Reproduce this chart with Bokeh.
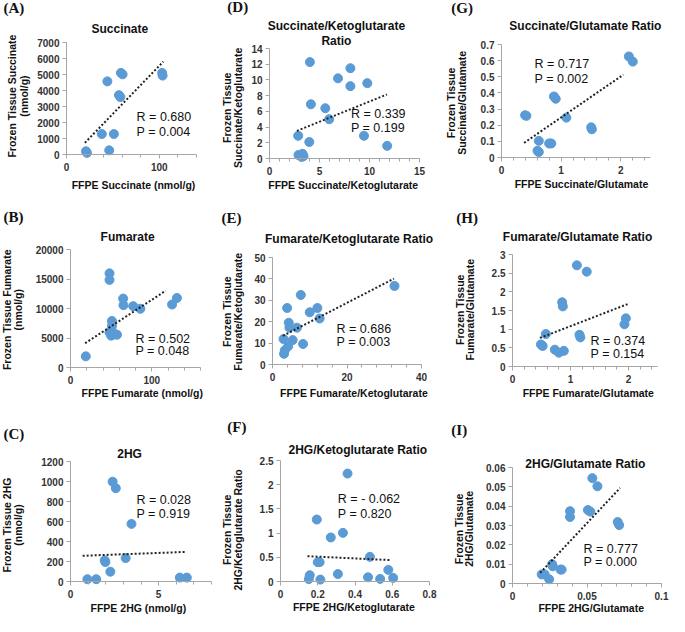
import math
from bokeh.plotting import figure
from bokeh.layouts import column, row
from bokeh.models import Range1d, FixedTicker, Label, CustomJSTickFormatter
from bokeh.embed import file_html
from bokeh.resources import INLINE

# ---------------- data ----------------
# (A) Succinate
succ_x = [21, 22, 38, 51, 46, 44, 56.5, 58, 58.6, 60.4, 103, 103.5]
succ_y = [200, 100, 1280, 1280, 260, 4570, 3710, 3590, 5100, 5010, 5100, 4930]
succ_trend_x = [19.8, 104.3]
succ_trend_y = [730, 5806]
# (D) Succinate/Ketoglutarate
sk_x = [4.04, 8.09, 6.85, 8.09, 9.78, 4.14, 5.58, 5.97, 2.87, 3.98, 9.45, 11.77, 2.9, 3.3, 3.4, 3.2]
sk_y = [12.27, 11.49, 10.2, 9.21, 9.59, 6.9, 6.4, 5.0, 2.89, 2.1, 2.89, 1.61, 0.45, 0.6, 0.3, 0.2]
sk_trend_x = [2.74, 11.74]
sk_trend_y = [3.51, 8.14]
# (G) Succinate/Glutamate
sg_x = [2.137, 2.203, 0.396, 0.418, 0.88, 0.91, 1.088, 1.505, 1.516, 0.626, 0.80, 0.835, 0.604, 0.626]
sg_y = [0.626, 0.594, 0.262, 0.258, 0.378, 0.364, 0.247, 0.187, 0.175, 0.103, 0.087, 0.087, 0.042, 0.034]
sg_trend_x = [0.379, 2.044]
sg_trend_y = [0.0905, 0.513]
# (B) Fumarate
fum_x = [18.8, 48, 48, 51, 51, 51, 52, 48, 50, 57.2, 64.8, 65.2, 77.2, 86, 125, 131]
fum_y = [1890, 15955, 14844, 7890, 7056, 6222, 5555, 5945, 5400, 5555, 11675, 10563, 10396, 9952, 10674, 11786]
fum_trend_x = [18, 117.2]
fum_trend_y = [4114, 13010]
# (E) Fumarate/Ketoglutarate
fk_x = [7.6, 3.93, 12.05, 10.0, 12.66, 4.37, 4.54, 6.55, 2.97, 5.41, 4.2, 8.2, 3.3, 3.1, 32.75]
fk_y = [32.5, 26.4, 26.4, 24.4, 21.5, 19.5, 17.2, 17.2, 11.9, 11.4, 8.5, 9.6, 6.6, 5.0, 36.7]
fk_trend_x = [2.8, 32.6]
fk_trend_y = [13.4, 40.1]
# (H) Fumarate/Glutamate
fg_x = [1.11, 1.28, 0.856, 0.868, 1.955, 1.93, 0.575, 1.155, 1.17, 0.49, 0.52, 0.73, 0.80, 0.885]
fg_y = [2.71, 2.54, 1.72, 1.61, 1.29, 1.13, 0.87, 0.85, 0.78, 0.59, 0.55, 0.45, 0.37, 0.42]
fg_trend_x = [0.473, 1.983]
fg_trend_y = [0.765, 1.67]
# (C) 2HG
hg_x = [2.39, 2.57, 3.46, 1.94, 1.98, 2.26, 3.13, 0.96, 1.46, 6.2, 6.6]
hg_y = [998, 933, 576, 211, 195, 98, 234, 23, 23, 39, 39]
hg_trend_x = [0.69, 6.57]
hg_trend_y = [257, 296]
# (F) 2HG/Ketoglutarate
hk_x = [0.36, 0.195, 0.335, 0.27, 0.2, 0.21, 0.48, 0.157, 0.152, 0.214, 0.308, 0.47, 0.535, 0.579, 0.605]
hk_y = [2.23, 1.28, 1.005, 0.91, 0.40, 0.40, 0.51, 0.13, 0.05, 0.04, 0.154, 0.087, 0.054, 0.24, 0.074]
hk_trend_x = [0.145, 0.59]
hk_trend_y = [0.523, 0.442]
# (I) 2HG/Glutamate
hgl_x = [0.0536, 0.057, 0.0386, 0.0386, 0.0506, 0.0522, 0.0706, 0.0716, 0.0266, 0.027, 0.0322, 0.033, 0.0196, 0.0216, 0.0246]
hgl_y = [0.0545, 0.0503, 0.0374, 0.0344, 0.038, 0.0372, 0.0318, 0.0302, 0.01, 0.0089, 0.0072, 0.0072, 0.0047, 0.0047, 0.0022]
hgl_trend_x = [0.0186, 0.0722]
hgl_trend_y = [0.0055, 0.0494]

# tick values
succ_xticks = [0, 100]
succ_yticks = [0, 1000, 2000, 3000, 4000, 5000, 6000, 7000]
sk_xticks = [0, 5, 10, 15]
sk_yticks = [0, 2, 4, 6, 8, 10, 12, 14]
sg_xticks = [0, 1, 2]
sg_yticks = [0, 0.1, 0.2, 0.3, 0.4, 0.5, 0.6, 0.7]
fum_xticks = [0, 100]
fum_yticks = [0, 5000, 10000, 15000, 20000]
fk_xticks = [0, 20, 40]
fk_yticks = [0, 10, 20, 30, 40, 50]
fg_xticks = [0, 1, 2]
fg_yticks = [0, 0.5, 1, 1.5, 2, 2.5, 3]
hg_xticks = [0, 5]
hg_yticks = [0, 200, 400, 600, 800, 1000, 1200]
hk_xticks = [0, 0.2, 0.4, 0.6, 0.8]
hk_yticks = [0, 0.5, 1, 1.5, 2, 2.5]
hgl_xticks = [0, 0.05, 0.1]
hgl_yticks = [0, 0.01, 0.02, 0.03, 0.04, 0.05, 0.06]

# ---------------- styling / layout ----------------
FONT = "Liberation Sans"
BLUE = "#5B9BD5"
AXC = "#A6A6A6"
COLW = [220, 224, 225]
ROWH = [200, 200, 216]
REFW = [225, 230, 230]
REFH = [205, 205, 222]


def steps(n, d):
    return [round(i * d, 6) for i in range(n + 1)]


# geometry values are pixel positions inside each reference panel
panels = [
    [
        dict(letter="(A)", lpos=(3, 8), titles=[("Succinate", 122, 29)],
             xlab=("FFPE Succinate (nmol/g)", 136, 189),
             ylab=(("Frozen Tissue Succinate", 12), ("(nmol/g)", 24.5), 98),
             x=succ_x, y=succ_y, tx=succ_trend_x, ty=succ_trend_y,
             xmax=140, xt=succ_xticks, xm=steps(7, 20), ymax=7000, yt=succ_yticks,
             stats=("R = 0.680", "P = 0.004"), spos=(75.5, 2334, 1380),
             geom=(68, 200, 43, 158)),
        dict(letter="(D)", lpos=(7, 7), titles=[("Succinate/Ketoglutarate", 119, 26), ("Ratio", 119, 41)],
             xlab=("FFPE Succinate/Ketoglutarate", 126, 189),
             ylab=(("Frozen Tissue", 6.5), ("Succinate/Ketoglutarate", 17.5), 110),
             x=sk_x, y=sk_y, tx=sk_trend_x, ty=sk_trend_y,
             xmax=15, xt=sk_xticks, xm=steps(15, 1), ymax=14, yt=sk_yticks,
             stats=("R = 0.339", "P = 0.199"), spos=(8.15, 5.7, 3.93),
             geom=(50.7, 204, 48.7, 161.7)),
        dict(letter="(G)", lpos=(7, 8), titles=[("Succinate/Glutamate Ratio", 144, 26)],
             xlab=("FFPE Succinate/Glutamate", 140, 188),
             ylab=(("Frozen Tissue", 7), ("Succinate/Glutamate", 18), 105),
             x=sg_x, y=sg_y, tx=sg_trend_x, ty=sg_trend_y,
             xmax=2.5, xt=sg_xticks, xm=steps(12, 0.2), ymax=0.7, yt=sg_yticks,
             stats=("R = 0.717", "P = 0.002"), spos=(0.555, 0.58, 0.489),
             geom=(58.7, 210.4, 45, 161)),
    ],
    [
        dict(letter="(B)", lpos=(3, 17), titles=[("Fumarate", 130, 37)],
             xlab=("FFPE Fumarate (nmol/g)", 145, 197),
             ylab=(("Frozen Tissue Fumarate", 6.5), ("(nmol/g)", 17.5), 112),
             x=fum_x, y=fum_y, tx=fum_trend_x, ty=fum_trend_y,
             xmax=160, xt=fum_xticks, xm=steps(8, 20), ymax=20000, yt=fum_yticks,
             stats=("R = 0.502", "P = 0.048"), spos=(80, 4837, 2780),
             geom=(71.7, 205, 50.7, 170.7)),
        dict(letter="(E)", lpos=(1, 17.5), titles=[("Fumarate/Ketoglutarate Ratio", 132, 39)],
             xlab=("FFPE Fumarate/Ketoglutarate", 137, 197),
             ylab=(("Frozen Tissue", 6.5), ("Fumarate/Ketoglutarate", 17.5), 114),
             x=fk_x, y=fk_y, tx=fk_trend_x, ty=fk_trend_y,
             xmax=40, xt=fk_xticks, xm=steps(10, 4), ymax=50, yt=fk_yticks,
             stats=("R = 0.686", "P = 0.003"), spos=(17.2, 16.8, 10.4),
             geom=(53.3, 206, 58.3, 167.7)),
        dict(letter="(H)", lpos=(12, 17.5), titles=[("Fumarate/Glutamate Ratio", 136, 37)],
             xlab=("FFPE Fumarate/Glutamate", 147, 197),
             ylab=(("Frozen Tissue", 15.5), ("Fumarate/Glutamate", 26.5), 112),
             x=fg_x, y=fg_y, tx=fg_trend_x, ty=fg_trend_y,
             xmax=2.5, xt=fg_xticks, xm=steps(12, 0.2), ymax=3, yt=fg_yticks,
             stats=("R = 0.374", "P = 0.154"), spos=(1.346, 0.696, 0.348),
             geom=(69.3, 217.3, 55, 170)),
    ],
    [
        dict(letter="(C)", lpos=(3, 34), titles=[("2HG", 132, 55)],
             xlab=("FFPE 2HG (nmol/g)", 141, 213),
             ylab=(("Frozen Tissue 2HG", 6.5), ("(nmol/g)", 17.5), 128),
             x=hg_x, y=hg_y, tx=hg_trend_x, ty=hg_trend_y,
             xmax=8, xt=hg_xticks, xm=steps(8, 1), ymax=1200, yt=hg_yticks,
             stats=("R = 0.028", "P = 0.919"), spos=(3.74, 819, 680),
             geom=(71.7, 215.7, 62.7, 185.7)),
        dict(letter="(F)", lpos=(7, 27.5), titles=[("2HG/Ketoglutarate Ratio", 141, 51)],
             xlab=("FFPE 2HG/Ketoglutarate", 137, 212),
             ylab=(("Frozen Tissue", 7), ("2HG/Ketoglutarate Ratio", 18), 133),
             x=hk_x, y=hk_y, tx=hk_trend_x, ty=hk_trend_y,
             xmax=0.8, xt=hk_xticks, xm=[], ymax=2.5, yt=hk_yticks,
             stats=("R = - 0.062", "P = 0.820"), spos=(0.308, 1.696, 1.394),
             geom=(61.5, 215, 61.7, 186)),
        dict(letter="(I)", lpos=(7, 30), titles=[("2HG/Glutamate Ratio", 144, 65)],
             xlab=("FFPE 2HG/Glutamate", 150, 213),
             ylab=(("Frozen Tissue", 14.5), ("2HG/Glutamate", 25.5), 132),
             x=hgl_x, y=hgl_y, tx=hgl_trend_x, ty=hgl_trend_y,
             xmax=0.1, xt=hgl_xticks, xm=steps(10, 0.01), ymax=0.06, yt=hgl_yticks,
             stats=("R = 0.777", "P = 0.000"), spos=(0.0476, 0.0176, 0.0109),
             geom=(70, 222, 69, 188.3)),
    ],
]


def make_panel(cfg, w, h, sxf, syf):
    L, R, T, B = cfg["geom"]
    Lp, Rp, Tp, Bp = round(L * sxf), round(R * sxf), round(T * syf), round(B * syf)
    xmax, ymax = cfg["xmax"], cfg["ymax"]
    kx = xmax / float(Rp - Lp)          # data units per pixel
    ky = ymax / float(Bp - Tp)
    # the frame covers the whole canvas; the axes sit at the data origin
    p = figure(width=w, height=h,
               x_range=Range1d(-Lp * kx, xmax + (w - Rp) * kx),
               y_range=Range1d(-(h - Bp) * ky, ymax + Tp * ky),
               output_backend="svg", toolbar_location=None, tools="",
               min_border=0)
    p.outline_line_color = None
    p.xgrid.visible = False
    p.ygrid.visible = False
    p.background_fill_color = "white"
    p.border_fill_color = "white"
    p.xaxis.fixed_location = 0
    p.yaxis.fixed_location = 0
    p.xaxis.bounds = (0, xmax)
    p.yaxis.bounds = (0, ymax)
    p.xaxis.ticker = FixedTicker(ticks=cfg["xt"], minor_ticks=cfg["xm"])
    p.yaxis.ticker = FixedTicker(ticks=cfg["yt"])
    for ax in (p.xaxis[0], p.yaxis[0]):
        ax.formatter = CustomJSTickFormatter(code="return String(tick);")
        ax.axis_line_color = AXC
        ax.major_tick_line_color = AXC
        ax.minor_tick_line_color = AXC
        ax.major_tick_in = 0
        ax.major_tick_out = 4
        ax.minor_tick_in = 0
        ax.minor_tick_out = 3
        ax.major_label_text_font = FONT
        ax.major_label_text_font_size = "10px"
        ax.major_label_text_font_style = "bold"
        ax.major_label_text_color = "#333333"
    p.yaxis.minor_tick_line_color = None
    p.xaxis.major_label_standoff = 4
    p.yaxis.major_label_standoff = 3

    p.scatter(cfg["x"], cfg["y"], size=9, fill_color=BLUE, line_color=BLUE)
    p.line(cfg["tx"], cfg["ty"], line_color="#222222", line_width=2, line_dash="2 2")

    sx, sy1, sy2 = cfg["spos"]
    for txt, yy in zip(cfg["stats"], (sy1, sy2)):
        p.add_layout(Label(x=sx, y=yy, text=txt, text_font=FONT, text_font_size="12.5px",
                           text_color="#111111", text_baseline="middle", text_align="left"))

    def to_data(px, py):
        return (px - Lp) * kx, (Bp - py) * ky

    # chart title
    for txt, cx, cy in cfg["titles"]:
        dx, dy = to_data(cx * sxf, cy * syf)
        p.add_layout(Label(x=dx, y=dy, text=txt, text_font=FONT, text_font_style="bold",
                           text_font_size="12px", text_color="#111111",
                           text_align="center", text_baseline="middle"))
    # panel letter
    lx, lcy = cfg["lpos"]
    dx, dy = to_data(lx * sxf, lcy * syf)
    p.add_layout(Label(x=dx, y=dy, text=cfg["letter"], text_font="Liberation Serif",
                       text_font_style="bold", text_font_size="15px", text_color="#111111",
                       text_align="left", text_baseline="middle"))
    # x axis title
    txt, cx, cy = cfg["xlab"]
    dx, dy = to_data(cx * sxf, cy * syf)
    p.add_layout(Label(x=dx, y=dy, text=txt, text_font=FONT, text_font_style="bold",
                       text_font_size="10.5px", text_color="#111111",
                       text_align="center", text_baseline="middle"))
    # y axis title (two rotated lines)
    (t1, x1), (t2, x2), cy = cfg["ylab"]
    for txt, cx in ((t1, x1), (t2, x2)):
        dx, dy = to_data(cx * sxf, cy * syf)
        p.add_layout(Label(x=dx, y=dy, text=txt, angle=math.pi / 2, text_font=FONT,
                           text_font_style="bold", text_font_size="10.5px", text_color="#111111",
                           text_align="center", text_baseline="middle"))
    return p


rows = []
for r, prow in enumerate(panels):
    figs = []
    for c, cfg in enumerate(prow):
        figs.append(make_panel(cfg, COLW[c], ROWH[r], COLW[c] / REFW[c], ROWH[r] / REFH[r]))
    rows.append(row(*figs))
layout = column(*rows)

open("out.html", "w").write(file_html(layout, INLINE, title="FFPE vs frozen tissue"))
